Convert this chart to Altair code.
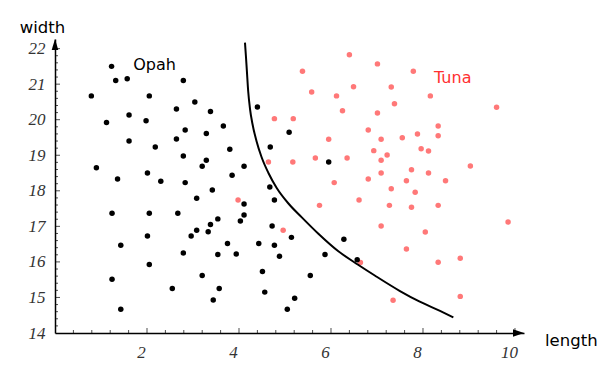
import altair as alt
import pandas as pd

# ---- data ----
opah_x = [1.23, 1.32, 1.57, 2.79, 0.79, 2.05, 3.04, 2.64, 3.38, 1.61, 1.12, 1.98, 3.66, 2.83,
          3.29, 1.61, 2.64, 2.18, 3.80, 2.79, 3.29, 3.20, 0.90, 2.01, 1.36, 2.30, 2.83, 3.42,
          3.08, 1.24, 2.05, 2.67, 3.54, 3.38, 3.08, 3.33, 2.01, 2.96, 1.43, 3.75, 2.79, 3.54,
          2.05, 3.20, 1.24, 2.55, 3.57, 3.44, 1.43,
          4.40, 5.09, 4.68, 4.11, 3.85, 5.95, 4.67, 4.77, 4.11, 4.11, 4.03, 4.72, 5.14, 6.28,
          4.43, 4.77, 3.94, 4.88, 5.87, 6.57, 4.51, 5.55, 4.56, 5.21, 5.05]
opah_y = [21.50, 21.10, 21.15, 21.10, 20.67, 20.67, 20.50, 20.30, 20.23, 20.13, 19.92, 19.97,
          19.82, 19.71, 19.61, 19.40, 19.46, 19.23, 19.17, 18.98, 18.86, 18.69, 18.65, 18.50,
          18.33, 18.27, 18.23, 18.02, 17.79, 17.37, 17.37, 17.37, 17.21, 17.05, 16.89, 16.85,
          16.73, 16.73, 16.47, 16.52, 16.25, 16.21, 15.93, 15.62, 15.51, 15.25, 15.25, 14.93,
          14.67,
          20.36, 19.65, 19.23, 18.69, 18.44, 18.81, 18.11, 17.74, 17.63, 17.32, 17.15, 17.01,
          16.69, 16.64, 16.52, 16.47, 16.22, 16.16, 16.21, 16.06, 15.73, 15.62, 15.15, 14.98,
          14.67]

tuna_x = [6.40, 5.38, 6.49, 5.58, 6.12, 6.25, 4.77, 5.18, 6.81, 5.95, 6.93, 4.64, 5.17, 5.66,
          6.35, 6.81, 6.07, 3.98, 6.61, 5.75, 4.96, 6.64,
          7.01, 7.79, 7.31, 8.16, 7.38, 9.60, 7.01, 8.33, 8.33, 7.09, 7.55, 7.88, 7.22, 7.96,
          8.12, 7.09, 9.03, 7.75, 8.12, 7.09, 7.64, 8.49, 7.31, 7.83, 7.27, 7.75, 8.33, 9.85,
          7.09, 8.05, 7.64, 8.81, 8.33, 7.35, 8.81]
tuna_y = [21.83, 21.36, 20.93, 20.78, 20.67, 20.25, 20.03, 20.03, 19.71, 19.45, 19.13, 18.81,
          18.81, 18.92, 18.92, 18.33, 18.23, 17.74, 17.74, 17.59, 16.89, 15.98,
          21.57, 21.36, 20.92, 20.67, 20.45, 20.35, 20.19, 19.82, 19.55, 19.45, 19.49, 19.60,
          19.01, 19.18, 19.12, 18.86, 18.70, 18.59, 18.50, 18.50, 18.28, 18.28, 18.06, 17.96,
          17.59, 17.54, 17.59, 17.12, 17.01, 16.84, 16.36, 16.10, 15.99, 14.92, 15.03]

curve_x = [4.13, 4.15, 4.17, 4.20, 4.24, 4.29, 4.38, 4.49, 4.64, 4.82, 5.07, 5.36, 5.72, 6.16,
           6.59, 6.96, 7.50, 7.93, 8.37, 8.66]
curve_y = [22.17, 21.80, 21.40, 20.80, 20.30, 19.90, 19.40, 18.95, 18.50, 18.08, 17.65, 17.26,
           16.80, 16.30, 15.92, 15.61, 15.18, 14.88, 14.62, 14.44]

x_major = [2, 4, 6, 8, 10]
x_minor = [0.4, 0.8, 1.2, 1.6, 2.4, 2.8, 3.2, 3.6, 4.4, 4.8, 5.2, 5.6, 6.4, 6.8, 7.2, 7.6,
           8.4, 8.8, 9.2, 9.6]
y_major = [15, 16, 17, 18, 19, 20, 21, 22]
y_labels = [14, 15, 16, 17, 18, 19, 20, 21, 22]
y_minor = [14.2, 14.4, 14.6, 14.8, 15.2, 15.4, 15.6, 15.8, 16.2, 16.4, 16.6, 16.8,
           17.2, 17.4, 17.6, 17.8, 18.2, 18.4, 18.6, 18.8, 19.2, 19.4, 19.6, 19.8,
           20.2, 20.4, 20.6, 20.8, 21.2, 21.4, 21.6, 21.8]

X_MAX = 10.196
Y_MAX = 22.27

xs = alt.Scale(domain=[0, X_MAX], nice=False, zero=False)
ys = alt.Scale(domain=[14, Y_MAX], nice=False, zero=False)

x_axis = alt.Axis(values=x_major, ticks=False, grid=False, domainColor="black",
                  domainWidth=1.5, labelFont="Liberation Serif", labelFontStyle="italic",
                  labelFontSize=17, labelColor="#333333", labelPadding=11, labelOffset=-6,
                  title=None, labelFlush=False)
y_axis = alt.Axis(values=y_labels, ticks=False, grid=False, domainColor="black",
                  domainWidth=1.5, labelFont="Liberation Serif", labelFontStyle="italic",
                  labelFontSize=17, labelColor="#333333", labelPadding=10,
                  title=None, labelFlush=False)


def X(field):
    return alt.X(field, scale=xs, axis=x_axis, title=None)


def Y(field):
    return alt.Y(field, scale=ys, axis=y_axis, title=None)


def XD(v):
    return alt.datum(v, scale=xs, axis=x_axis, title=None)


def YD(v):
    return alt.datum(v, scale=ys, axis=y_axis, title=None)


tuna_df = pd.DataFrame({"x": tuna_x, "y": tuna_y})
opah_df = pd.DataFrame({"x": opah_x, "y": opah_y})
curve_df = pd.DataFrame({"x": curve_x, "y": curve_y, "i": list(range(len(curve_x)))})

tuna = alt.Chart(tuna_df).mark_circle(size=30, color="#ff7878", opacity=1).encode(
    x=X("x:Q"), y=Y("y:Q"))
opah = alt.Chart(opah_df).mark_circle(size=30, color="black", opacity=1).encode(
    x=X("x:Q"), y=Y("y:Q"))
curve = alt.Chart(curve_df).mark_line(color="black", strokeWidth=2, interpolate="monotone").encode(
    x=X("x:Q"), y=Y("y:Q"), order="i:Q")


def xticks(vals, size):
    return alt.Chart(pd.DataFrame({"t": vals})).mark_tick(
        orient="vertical", size=size, thickness=1, yOffset=-size / 2, color="black"
    ).encode(x=X("t:Q"), y=YD(14))


def yticks(vals, size):
    return alt.Chart(pd.DataFrame({"t": vals})).mark_tick(
        orient="horizontal", size=size, thickness=1, xOffset=size / 2, color="black"
    ).encode(y=Y("t:Q"), x=XD(0))


one = pd.DataFrame({"a": [0]})
x_arrow = alt.Chart(one).mark_point(
    shape="M0,0 L-2,-0.7 L-2,0.7 Z", size=121, filled=True, color="black", opacity=1, strokeWidth=0
).encode(x=XD(X_MAX), y=YD(14))
y_arrow = alt.Chart(one).mark_point(
    shape="M0,0 L-0.6,2 L0.6,2 Z", size=121, filled=True, color="black", opacity=1, strokeWidth=0
).encode(x=XD(0), y=YD(Y_MAX))

opah_lbl = alt.Chart(one).mark_text(
    text="Opah", font="DejaVu Sans", fontSize=16, align="left", baseline="alphabetic", color="black"
).encode(x=XD(1.70), y=YD(21.41))
tuna_lbl = alt.Chart(one).mark_text(
    text="Tuna", font="DejaVu Sans", fontSize=16, align="left", baseline="alphabetic", color="#ff3030"
).encode(x=XD(8.24), y=YD(21.04))
width_lbl = alt.Chart(one).mark_text(
    text="width", font="DejaVu Sans", fontSize=16.5, align="center", baseline="alphabetic", color="black"
).encode(x=alt.value(-12.5), y=alt.value(-6))
length_lbl = alt.Chart(one).mark_text(
    text="length", font="DejaVu Sans", fontSize=16.5, align="left", baseline="alphabetic", color="black"
).encode(x=alt.value(490), y=alt.value(307))

chart = alt.layer(
    tuna, opah, curve,
    xticks(x_minor, 3), xticks(x_major, 5), yticks(y_minor, 3), yticks(y_major, 5),
    x_arrow, y_arrow, opah_lbl, tuna_lbl, width_lbl, length_lbl,
).properties(
    width=469, height=294,
    autosize=alt.AutoSizeParams(type="none"),
    padding={"left": 47, "top": 31, "right": 76, "bottom": 28},
    background="white",
).configure_view(stroke=None)

chart.save("out.html", embed_options={"renderer": "svg", "actions": False})
